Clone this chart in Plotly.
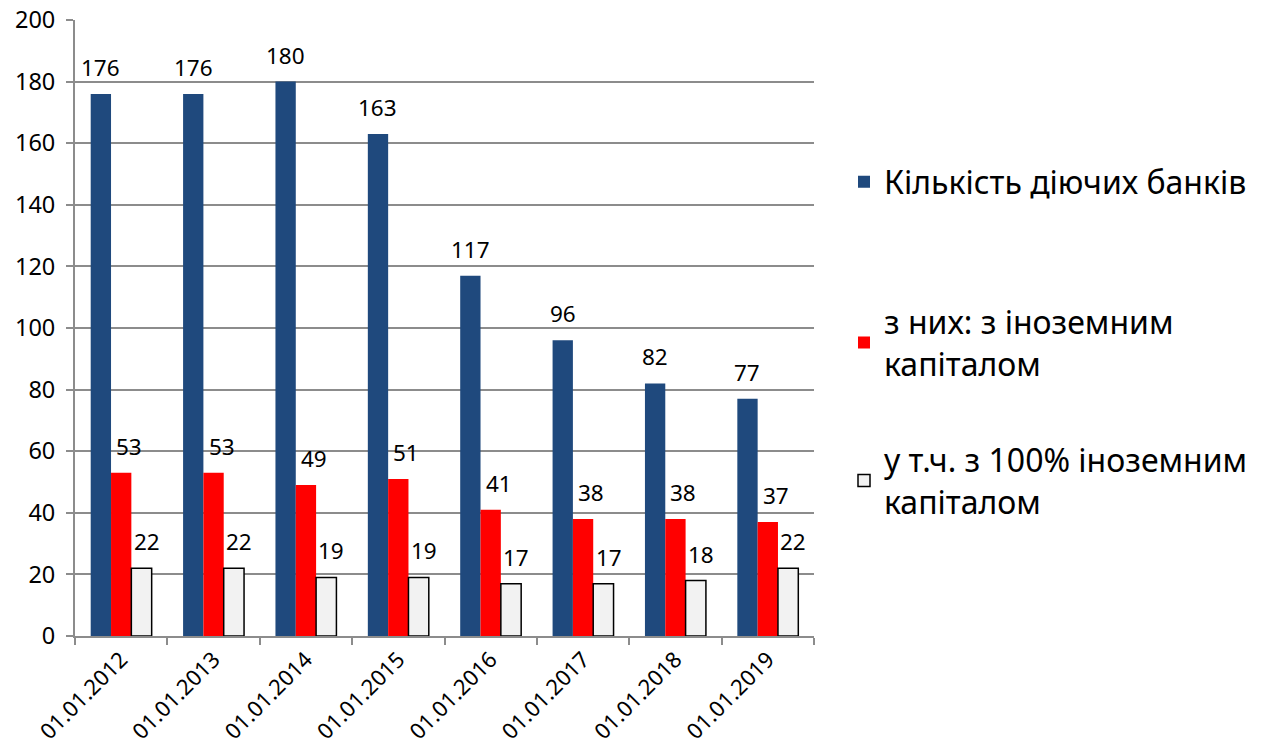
import plotly.graph_objects as go

categories = ["01.01.2012", "01.01.2013", "01.01.2014", "01.01.2015",
              "01.01.2016", "01.01.2017", "01.01.2018", "01.01.2019"]
banks_total = [176, 176, 180, 163, 117, 96, 82, 77]
banks_foreign = [53, 53, 49, 51, 41, 38, 38, 37]
banks_foreign100 = [22, 22, 19, 19, 17, 17, 18, 22]

series_names = ["Кількість діючих банків",
                "з них: з іноземним<br>капіталом",
                "у т.ч. з 100% іноземним<br>капіталом"]
y_ticks = list(range(0, 201, 20))

FONT = "Noto Sans"
fig = go.Figure()

fig.add_trace(go.Bar(x=categories, y=banks_total, name=series_names[0],
                     marker=dict(color="#1F497D", line=dict(width=0)),
                     legend="legend"))
fig.add_trace(go.Bar(x=categories, y=banks_foreign, name=series_names[1],
                     marker=dict(color="#FF0000", line=dict(width=0)),
                     legend="legend2"))
fig.add_trace(go.Bar(x=categories, y=banks_foreign100, name=series_names[2],
                     marker=dict(color="#F2F2F2", line=dict(color="#000000", width=1.5)),
                     legend="legend3"))

# data labels
offsets = [-1, 0, 1]
shifts = [0, 8, 5]
for k, vals in enumerate([banks_total, banks_foreign, banks_foreign100]):
    for c, v in zip(categories, vals):
        fig.add_annotation(x=c, y=v, xref="x", yref="y", text=str(v),
                           showarrow=False, yanchor="bottom",
                           xshift=offsets[k] * 20.5 + shifts[k], yshift=9,
                           font=dict(family=FONT, size=22.5, color="#000000"))

PW = 739.0
PH = 616.0
leg_common = dict(font=dict(family=FONT, size=32, color="#000000"),
                  bgcolor="rgba(0,0,0,0)", xanchor="left", yanchor="middle",
                  itemwidth=30)
LX = (844 - 75) / PW
fig.update_layout(
    legend=dict(x=LX, y=(636 - 182) / PH, **leg_common),
    legend2=dict(x=LX, y=(636 - 343) / PH, **leg_common),
    legend3=dict(x=LX, y=(636 - 481) / PH, **leg_common),
)

fig.update_layout(
    width=1270, height=746,
    margin=dict(l=75, r=456, t=20, b=110, autoexpand=False),
    paper_bgcolor="white", plot_bgcolor="white",
    barmode="group", bargap=0.34, bargroupgap=0,
    font=dict(family=FONT, size=22, color="#000000"),
    showlegend=True,
)
fig.update_xaxes(showgrid=False, showline=True, linecolor="#8C8C8C", linewidth=2,
                 ticks="outside", tickson="boundaries", ticklen=7, tickcolor="#8C8C8C",
                 tickwidth=2, tickangle=-45, tickfont=dict(family=FONT, size=22))
fig.update_yaxes(range=[0, 200], tickvals=y_ticks, showgrid=True, gridcolor="#8C8C8C",
                 gridwidth=2, showline=True, linecolor="#8C8C8C", linewidth=2,
                 ticks="outside", ticklen=7, tickcolor="#8C8C8C", tickwidth=2,
                 ticklabelstandoff=6,
                 zeroline=False, tickfont=dict(family=FONT, size=23.5))

fig.write_html("out.html", config={"displayModeBar": False},
               post_script="document.body.style.margin='0';document.body.style.overflow='hidden';")
